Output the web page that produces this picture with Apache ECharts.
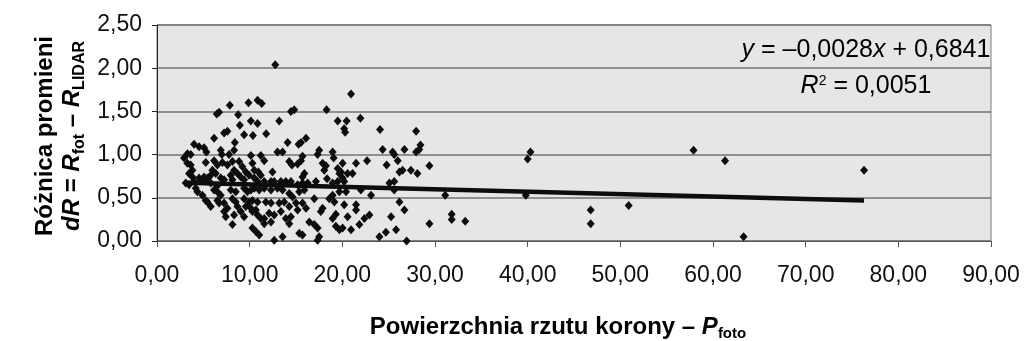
<!DOCTYPE html>
<html><head><meta charset="utf-8">
<script src="https://cdn.jsdelivr.net/npm/echarts@6/dist/echarts.min.js"></script>
<style>html,body{margin:0;padding:0;background:#fff}#c{width:1024px;height:341px}</style>
</head><body><div id="c"></div>
<script>
// Data
const xValues = [
 12.76,7.86,9.87,10.85,11.30,6.70,6.45,14.45,8.76,8.94,10.13,10.85,13.19,7.60,7.24,9.40,10.35,11.78,6.16,8.40,
 14.10,4.00,4.54,5.08,5.33,3.28,2.92,3.64,6.88,7.00,7.78,8.32,10.13,11.20,11.57,13.00,13.55,14.27,14.56,3.28,
 3.64,3.82,5.26,6.16,6.52,7.06,7.60,8.14,8.86,9.22,10.30,10.50,5.98,6.34,5.80,8.32,8.68,9.58,9.94,10.94,
 11.20,12.46,3.46,3.82,5.08,5.44,6.88,7.24,7.96,8.14,9.04,9.40,10.50,10.85,11.57,12.30,12.65,13.37,13.90,14.45,
 3.10,3.46,4.00,4.54,4.90,5.80,6.52,4.18,4.36,4.90,5.26,6.16,6.52,6.88,7.96,8.50,9.40,9.76,10.13,10.50,
 11.03,11.57,12.30,13.00,13.55,14.27,14.63,5.44,5.80,6.52,6.70,7.24,7.60,8.14,8.50,8.68,9.40,9.94,10.30,10.85,
 9.58,10.13,10.67,11.75,12.30,13.19,13.73,14.27,7.24,7.42,8.32,8.14,9.04,9.40,10.30,10.85,11.20,11.57,12.10,12.65,
 13.37,13.90,14.45,11.57,12.30,10.30,10.67,11.03,12.65,13.55,
 20.94,14.81,18.30,19.50,20.46,21.95,20.20,20.30,24.07,27.96,16.08,15.54,15.28,17.50,17.33,18.95,19.06,24.35,25.43,25.60,
 26.70,27.96,15.70,15.54,15.17,17.87,18.23,18.05,20.03,19.50,19.86,21.48,22.67,24.78,25.98,26.50,26.16,27.40,15.90,15.70,
 20.57,21.10,19.68,20.03,18.35,15.17,15.70,16.26,17.15,18.95,19.50,20.20,25.08,25.60,15.35,15.90,18.95,19.68,20.40,22.00,
 23.10,25.60,15.00,15.70,16.08,16.97,17.87,18.59,19.14,20.20,21.48,21.48,26.16,26.70,15.17,14.27,17.68,18.95,19.30,20.57,
 22.38,22.92,21.84,25.26,16.43,16.97,17.33,19.30,19.68,20.03,20.94,15.35,15.70,17.50,17.33,24.00,24.70,25.80,26.94,
 28.43,28.30,29.40,28.10,31.10,31.80,31.80,33.26,29.40,
 57.9,61.3,76.3,63.3,50.9,46.8,46.8,40.3,40.0,39.8
];
const yValues = [
 2.04,1.57,1.60,1.63,1.59,1.49,1.47,1.50,1.46,1.34,1.39,1.36,1.39,1.27,1.25,1.23,1.22,1.24,1.19,1.14,
 1.14,1.12,1.09,1.08,1.03,1.01,0.96,1.00,1.05,1.00,1.00,1.05,0.99,0.99,0.93,1.03,1.03,0.92,0.88,0.90,
 0.88,0.82,0.91,0.93,0.88,0.91,0.88,0.92,0.92,0.86,0.90,0.82,0.82,0.78,0.76,0.82,0.78,0.80,0.76,0.80,
 0.76,0.80,0.78,0.74,0.74,0.73,0.73,0.71,0.76,0.71,0.74,0.71,0.73,0.69,0.69,0.69,0.69,0.69,0.69,0.69,
 0.67,0.65,0.69,0.73,0.71,0.67,0.64,0.61,0.57,0.53,0.47,0.59,0.57,0.53,0.59,0.57,0.61,0.57,0.59,0.61,
 0.59,0.61,0.59,0.61,0.59,0.55,0.51,0.45,0.40,0.47,0.44,0.44,0.38,0.49,0.45,0.40,0.49,0.45,0.47,0.45,
 0.40,0.38,0.36,0.45,0.44,0.44,0.45,0.40,0.34,0.28,0.30,0.19,0.34,0.28,0.34,0.30,0.26,0.26,0.32,0.30,
 0.34,0.26,0.28,0.20,0.22,0.15,0.11,0.07,0.01,0.05,
 1.70,1.52,1.52,1.39,1.39,1.42,1.30,1.26,1.29,1.27,1.19,1.14,1.12,1.05,1.00,1.03,0.96,1.06,1.03,1.00,
 1.06,1.03,0.98,0.93,0.89,0.90,0.87,0.82,0.90,0.84,0.80,0.90,0.93,0.88,0.93,0.82,0.80,0.82,0.78,0.74,
 0.78,0.78,0.78,0.73,0.72,0.65,0.67,0.67,0.69,0.67,0.69,0.69,0.67,0.69,0.57,0.59,0.53,0.57,0.57,0.59,
 0.53,0.59,0.44,0.44,0.38,0.49,0.38,0.49,0.45,0.42,0.42,0.36,0.45,0.36,0.36,0.20,0.34,0.26,0.31,0.28,
 0.26,0.30,0.19,0.28,0.22,0.19,0.15,0.17,0.13,0.15,0.13,0.09,0.07,0.05,0.01,0.05,0.10,0.13,0.00,
 1.11,1.06,0.87,0.78,0.53,0.31,0.25,0.23,0.20,
 1.05,0.93,0.82,0.05,0.41,0.36,0.20,1.03,0.95,0.53
];
const trendX = [3.1, 76.3];
const trendY = [0.675, 0.470];
const xTickLabels = ['0,00','10,00','20,00','30,00','40,00','50,00','60,00','70,00','80,00','90,00'];
const yTickLabels = ['0,00','0,50','1,00','1,50','2,00','2,50'];

const FONT = "'Liberation Sans', Arial, Helvetica, sans-serif";
const points = xValues.map((x, i) => [x, yValues[i]]);
const trend = trendX.map((x, i) => [x, trendY[i]]);

const chart = echarts.init(document.getElementById('c'), null, {renderer: 'canvas'});
const bold = (sz, extra) => Object.assign({fontFamily: FONT, fontWeight: 'bold', fontSize: sz, color: '#111'}, extra || {});
const reg = (sz, extra) => Object.assign({fontFamily: FONT, fontSize: sz, color: '#111'}, extra || {});

chart.setOption({
  animation: false,
  backgroundColor: '#ffffff',
  grid: {left: 157, right: 33, top: 25, bottom: 100, show: true, backgroundColor: '#e6e6e6', borderColor: '#7a7a7a', borderWidth: 1},
  xAxis: {
    type: 'value', min: 0, max: 90, interval: 10,
    axisLine: {show: true, onZero: false, lineStyle: {color: '#555', width: 1}},
    axisTick: {show: true, length: 6, lineStyle: {color: '#555'}},
    splitLine: {show: false},
    axisLabel: {margin: 23, fontFamily: FONT, fontSize: 23, color: '#111',
      formatter: v => xTickLabels[Math.round(v / 10)]}
  },
  yAxis: {
    type: 'value', min: 0, max: 2.5, interval: 0.5,
    axisLine: {show: true, onZero: false, lineStyle: {color: '#222', width: 1}},
    axisTick: {show: true, length: 5, lineStyle: {color: '#222'}},
    splitLine: {show: true, lineStyle: {color: '#737373', width: 1.5}},
    axisLabel: {margin: 15, fontFamily: FONT, fontSize: 23, color: '#111',
      formatter: v => yTickLabels[Math.round(v / 0.5)]}
  },
  series: [
    {type: 'scatter', data: points, symbol: 'diamond', symbolSize: [8, 9], itemStyle: {color: '#0d0d0d', opacity: 1}, z: 2},
    {type: 'line', data: trend, symbol: 'none', lineStyle: {color: '#0d0d0d', width: 4.5}, z: 3}
  ],
  graphic: [
    {
      type: 'text', x: 59, y: 136, rotation: Math.PI / 2, z: 10,
      style: {
        text: '{b|Różnica promieni}\n{bi|dR}{b| = }{bi|R}{s|fot}{b| – }{bi|R}{s|LIDAR}',
        align: 'center', verticalAlign: 'middle',
        rich: {
          b: bold(24, {lineHeight: 27}),
          bi: bold(24, {lineHeight: 27, fontStyle: 'italic'}),
          s: bold(16, {lineHeight: 16, padding: [14, 0, 0, 0]})
        }
      }
    },
    {
      type: 'text', x: 558, y: 327, z: 10,
      style: {
        text: '{b|Powierzchnia rzutu korony – }{bi|P}{s|foto}',
        align: 'center', verticalAlign: 'middle',
        rich: {
          b: bold(24, {lineHeight: 27}),
          bi: bold(24, {lineHeight: 27, fontStyle: 'italic'}),
          s: bold(15, {lineHeight: 15, padding: [14, 0, 0, 0]})
        }
      }
    },
    {
      type: 'text', x: 866, y: 68, z: 10,
      style: {
        text: '{i|y}{r| = –0,0028}{i|x}{r| + 0,6841}\n{i|R}{sup|2}{r| = 0,0051}',
        align: 'center', verticalAlign: 'middle',
        rich: {
          r: reg(25, {lineHeight: 36}),
          i: reg(25, {lineHeight: 36, fontStyle: 'italic'}),
          sup: reg(14, {lineHeight: 14, padding: [0, 0, 10, 0]})
        }
      }
    }
  ]
});
</script>
</body></html>
